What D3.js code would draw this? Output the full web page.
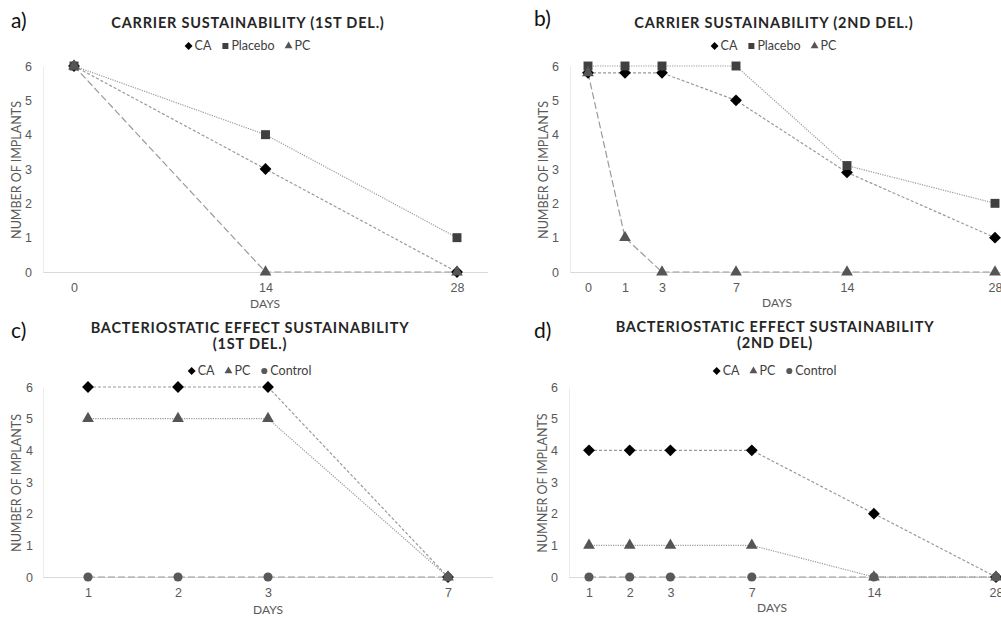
<!DOCTYPE html>
<html>
<head>
<meta charset="utf-8">
<script src="https://cdn.jsdelivr.net/npm/d3@7"></script>
<style>
  body { margin: 0; background: #fff; }
  svg { display: block; font-family: Lato, "Open Sans", sans-serif; }
</style>
</head>
<body>
<svg id="chart" width="1001" height="617"></svg>
<script>
// ---- data ----
const yTicks = [0, 1, 2, 3, 4, 5, 6]

const daysA = [0, 14, 28]
const caA = [6, 3, 0]
const placeboA = [6, 4, 1]
const pcA = [6, 0, 0]

const daysB = [0, 1, 3, 7, 14, 28]
const caB = [5.8, 5.8, 5.8, 5, 2.9, 1]
const placeboB = [6, 6, 6, 6, 3.1, 2]
const pcB = [5.8, 1, 0, 0, 0, 0]

const daysC = [1, 2, 3, 7]
const caC = [6, 6, 6, 0]
const pcC = [5, 5, 5, 0]
const controlC = [0, 0, 0, 0]

const daysD = [1, 2, 3, 7, 14, 28]
const caD = [4, 4, 4, 4, 2, 0]
const pcD = [1, 1, 1, 1, 0, 0]
const controlD = [0, 0, 0, 0, 0, 0]

// marker / line looks per series
const DOT = '1.2,1.2', SHORT = '3,2', LONG = '7,3'
const STYLE = {
    CA: {shape: 'diamond', fill: '#000'},
    Placebo: {shape: 'square', fill: '#404040'},
    PC: {shape: 'triangle', fill: '#555'},
    Control: {shape: 'circle', fill: '#595959'}
}

// panel layout (pixel boxes of each small chart)
const panels = [
    {tag: 'a)', tagX: 11, tagY: 28, title: ['CARRIER SUSTAINABILITY (1ST DEL.)'], titleX: 248, titleY: 28,
     legendY: 46, left: 43, right: 488, top: 66, bottom: 272, xFirst: 74, step: 191.5, slots: [0, 1, 2],
     days: daysA, yLabel: 'NUMBER OF IMPLANTS', yLabelX: 21, tickEnd: 32, xTickY: 292, daysX: 265, daysY: 308,
     series: [{name: 'CA', values: caA, dash: SHORT}, {name: 'Placebo', values: placeboA, dash: DOT}, {name: 'PC', values: pcA, dash: LONG}]},
    {tag: 'b)', tagX: 534, tagY: 26, title: ['CARRIER SUSTAINABILITY (2ND DEL.)'], titleX: 774, titleY: 28,
     legendY: 46, left: 570, right: 1020, top: 66, bottom: 272, xFirst: 588, step: 37, slots: [0, 1, 2, 4, 7, 11],
     days: daysB, yLabel: 'NUMBER OF IMPLANTS', yLabelX: 548, tickEnd: 559, xTickY: 292, daysX: 777, daysY: 307,
     series: [{name: 'CA', values: caB, dash: SHORT}, {name: 'Placebo', values: placeboB, dash: DOT}, {name: 'PC', values: pcB, dash: LONG}]},
    {tag: 'c)', tagX: 11, tagY: 338, title: ['BACTERIOSTATIC EFFECT SUSTAINABILITY', '(1ST DEL.)'], titleX: 250, titleY: 333,
     legendY: 371, left: 43, right: 493, top: 387, bottom: 577, xFirst: 88, step: 90, slots: [0, 1, 2, 4],
     days: daysC, yLabel: 'NUMBER OF IMPLANTS', yLabelX: 21, tickEnd: 33, xTickY: 597, daysX: 268, daysY: 614,
     series: [{name: 'CA', values: caC, dash: SHORT}, {name: 'PC', values: pcC, dash: DOT}, {name: 'Control', values: controlC, dash: LONG}]},
    {tag: 'd)', tagX: 534, tagY: 338, title: ['BACTERIOSTATIC EFFECT SUSTAINABILITY', '(2ND DEL)'], titleX: 775, titleY: 332,
     legendY: 371, left: 569, right: 1020, top: 387, bottom: 577, xFirst: 589, step: 40.7, slots: [0, 1, 2, 4, 7, 10],
     days: daysD, yLabel: 'NUMNER OF IMPLANTS', yLabelX: 547, tickEnd: 558, xTickY: 597, daysX: 772, daysY: 612,
     series: [{name: 'CA', values: caD, dash: SHORT}, {name: 'PC', values: pcD, dash: DOT}, {name: 'Control', values: controlD, dash: LONG}]}
]

const svg = d3.select('#chart')

function symbolPath(shape, big) {
    const k = big ? 1 : 0.45
    if (shape === 'diamond') return d3.symbol(d3.symbolSquare, 70 * k)()
    if (shape === 'square') return d3.symbol(d3.symbolSquare, 80 * k)()
    if (shape === 'triangle') return d3.symbol(d3.symbolTriangle, 60 * k)()
    return d3.symbol(d3.symbolCircle, 66 * k)()
}

function drawPanel(p) {
    const g = svg.append('g')

    const x = d3.scaleLinear()
        .domain(p.days)
        .range(p.slots.map(s => p.xFirst + s * p.step))
    const y = d3.scaleLinear().domain([0, 6]).range([p.bottom, p.top])

    // panel letter + title
    g.append('text').attr('x', p.tagX).attr('y', p.tagY)
        .attr('font-size', 21).attr('fill', '#111').text(p.tag)

    p.title.forEach((t, i) => {
        g.append('text')
            .attr('x', p.titleX).attr('y', p.titleY + i * 16)
            .attr('text-anchor', 'middle')
            .attr('font-size', 14.5).attr('font-weight', 700)
            .attr('letter-spacing', 0.8).attr('fill', '#262626')
            .text(t)
    })

    // axes, no tick marks, light lines
    const xAxis = g.append('g')
        .attr('transform', `translate(0, ${p.bottom})`)
        .call(d3.axisBottom(x).tickValues(p.days).tickFormat(d3.format('d')).tickSize(0).tickPadding(0))
    xAxis.select('.domain').attr('d', `M${p.left},0.5H${p.right}`).attr('stroke', '#d9d9d9')
    xAxis.selectAll('text').attr('y', p.xTickY - p.bottom).attr('dy', 0)
        .attr('font-size', 12.5).attr('fill', '#595959').attr('font-family', null)

    const yAxis = g.append('g')
        .attr('transform', `translate(${p.left}, 0)`)
        .call(d3.axisLeft(y).tickValues(yTicks).tickFormat(d3.format('d')).tickSize(0).tickPadding(p.left - p.tickEnd))
    yAxis.select('.domain').attr('stroke', '#ececec')
    yAxis.selectAll('text').attr('font-size', 12.5).attr('fill', '#595959').attr('font-family', null)

    g.append('text')
        .attr('transform', `translate(${p.yLabelX}, ${(p.top + p.bottom) / 2 + 1}) rotate(-90)`)
        .attr('text-anchor', 'middle').attr('font-size', 12.5).attr('fill', '#595959')
        .text(p.yLabel)
    g.append('text')
        .attr('x', p.daysX).attr('y', p.daysY)
        .attr('text-anchor', 'middle').attr('font-size', 12).attr('fill', '#595959')
        .text('DAYS')

    // lines
    const line = d3.line().x(d => x(d[0])).y(d => y(d[1]))
    p.series.forEach(s => {
        g.append('path')
            .datum(p.days.map((d, i) => [d, s.values[i]]))
            .attr('d', line)
            .attr('fill', 'none')
            .attr('stroke', '#9a9a9a')
            .attr('stroke-width', 1.2)
            .attr('stroke-dasharray', s.dash)
    })

    // markers
    p.series.forEach(s => {
        const st = STYLE[s.name]
        g.selectAll(null)
            .data(p.days.map((d, i) => [d, s.values[i]]))
            .enter().append('path')
            .attr('d', symbolPath(st.shape, true))
            .attr('transform', d => `translate(${x(d[0])}, ${y(d[1])})` + (st.shape === 'diamond' ? ' rotate(45)' : ''))
            .attr('fill', st.fill)
    })

    // legend, centred above the plot
    const leg = g.append('g')
    let cx = 0
    p.series.forEach((s, i) => {
        const st = STYLE[s.name]
        leg.append('path')
            .attr('d', symbolPath(st.shape, false))
            .attr('transform', `translate(${cx + 3}, -4)` + (st.shape === 'diamond' ? ' rotate(45)' : ''))
            .attr('fill', st.fill)
        const t = leg.append('text').attr('x', cx + 9).attr('y', 0)
            .attr('font-size', 12.5).attr('fill', '#404040').text(s.name)
        cx += 9 + t.node().getComputedTextLength() + (i < p.series.length - 1 ? 11 : 0)
    })
    leg.attr('transform', `translate(${p.titleX - cx / 2}, ${p.legendY + 4})`)
}

panels.forEach(drawPanel)
</script>
</body>
</html>
